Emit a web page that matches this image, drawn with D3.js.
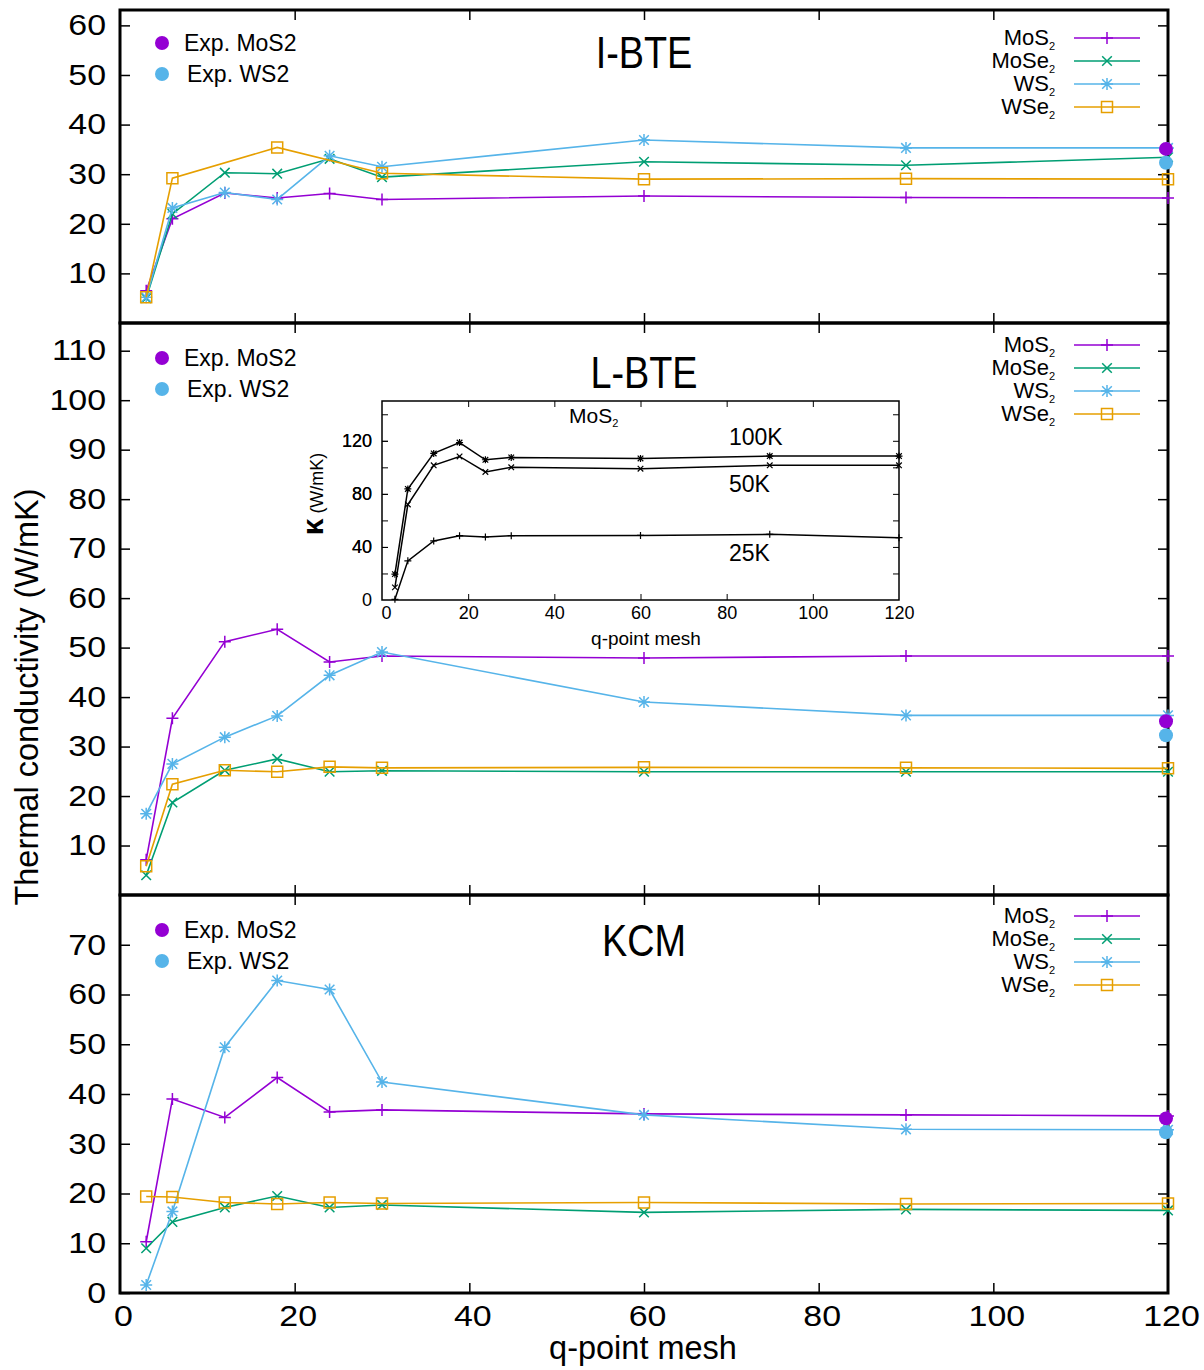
<!DOCTYPE html>
<html>
<head>
<meta charset="utf-8">
<script src="https://cdn.jsdelivr.net/npm/d3@7"></script>
<style>
  body { margin: 0; background: #fff; }
  svg { display: block; font-family: "Liberation Sans", Arial, sans-serif; }
</style>
</head>
<body>
<div id="chart"></div>
<script>
// q-point meshes and tick values
const qMesh = [3, 6, 12, 18, 24, 30, 60, 90, 120];
const xTickValues = [0, 20, 40, 60, 80, 100, 120];
const materials = ["MoS2", "MoSe2", "WS2", "WSe2"];
const panelNames = ["I-BTE", "L-BTE", "KCM"];

// I-BTE (W/mK)
const ibteMoS2 = [6.5, 21.0, 26.2, 25.2, 26.1, 24.9, 25.6, 25.3, 25.2];
const ibteMoSe2 = [5.0, 22.0, 30.3, 30.1, 33.1, 29.4, 32.5, 31.8, 33.4];
const ibteWS2 = [5.2, 23.2, 26.3, 24.9, 33.7, 31.5, 36.9, 35.3, 35.3];
const ibteWSe2 = [5.2, 29.2, null, 35.4, null, 30.2, 29.0, 29.1, 29.0];

// L-BTE
const lbteMoS2 = [7.1, 35.7, 51.2, 53.7, 47.1, 48.3, 47.9, 48.3, 48.3];
const lbteMoSe2 = [4.0, 18.7, 25.2, 27.5, 24.9, 25.1, 24.9, 24.9, 24.9];
const lbteWS2 = [16.4, 26.5, 31.9, 36.2, 44.4, 49.1, 39.0, 36.3, 36.3];
const lbteWSe2 = [5.8, 22.4, 25.2, 24.9, 25.9, 25.7, 25.8, 25.7, 25.6];

// KCM
const kcmMoS2 = [10.3, 39.0, 35.3, 43.3, 36.4, 36.8, 36.0, 35.8, 35.6];
const kcmMoSe2 = [9.0, 14.3, 17.2, 19.5, 17.2, 17.7, 16.2, 16.8, 16.6];
const kcmWS2 = [1.6, 16.4, 49.4, 62.8, 61.0, 42.4, 35.8, 32.9, 32.8];
const kcmWSe2 = [19.4, 19.3, 18.2, 17.9, 18.2, 18.0, 18.2, 17.9, 18.0];

// experimental values, drawn at q = 120
const expQ = 120;
const expMoS2 = 35.1;
const expWS2 = 32.3;

// y ticks per panel
const ibteTicks = [10, 20, 30, 40, 50, 60];
const lbteTicks = [10, 20, 30, 40, 50, 60, 70, 80, 90, 100, 110];
const kcmTicks = [0, 10, 20, 30, 40, 50, 60, 70];

// inset: MoS2 L-BTE at three temperatures
const insetTemps = ["100K", "50K", "25K"];
const inset100K = [19.5, 83.7, 110.5, 118.7, 105.7, 107.5, 106.7, 108.5, 108.5];
const inset50K = [9.5, 72.0, 101.5, 108.2, 96.5, 100.0, 99.0, 101.5, 101.5];
const inset25K = [0.5, 29.5, 44.5, 48.5, 47.5, 48.5, 48.7, 49.5, 47.0];
const insetYTicks = [0, 40, 80, 120];
const insetXTicks = [0, 20, 40, 60, 80, 100, 120];

(function () {
  const width = 1204;
  const height = 1370;
  const colors = { MoS2: "#9400d3", MoSe2: "#009e73", WS2: "#56b4e9", WSe2: "#e69f00" };
  const shapes = { MoS2: "plus", MoSe2: "cross", WS2: "star", WSe2: "square" };
  const tickFont = 29;
  const tickStretch = 1.17; // tick numbers in the source are drawn wide

  const svg = d3
    .select("#chart")
    .append("svg")
    .attr("width", width)
    .attr("height", height)
    .attr("viewBox", [0, 0, width, height]);

  function markerPath(shape, s) {
    const d = s * 0.8;
    if (shape === "plus") return `M${-s},0H${s}M0,${-s}V${s}`;
    if (shape === "cross") return `M${-d},${-d}L${d},${d}M${-d},${d}L${d},${-d}`;
    if (shape === "star")
      return `M${-s},0H${s}M0,${-s}V${s}M${-d},${-d}L${d},${d}M${-d},${d}L${d},${-d}`;
    return `M${-s},${-s}H${s}V${s}H${-s}Z`;
  }

  const x = d3.scaleLinear().domain([0, 120]).range([120, 1168]);

  const panels = [
    { name: panelNames[0], top: 10, bottom: 323, ymax: 63.1, ticks: ibteTicks,
      data: { MoS2: ibteMoS2, MoSe2: ibteMoSe2, WS2: ibteWS2, WSe2: ibteWSe2 } },
    { name: panelNames[1], top: 323, bottom: 895, ymax: 115.6, ticks: lbteTicks,
      data: { MoS2: lbteMoS2, MoSe2: lbteMoSe2, WS2: lbteWS2, WSe2: lbteWSe2 } },
    { name: panelNames[2], top: 895, bottom: 1293, ymax: 80, ticks: kcmTicks,
      data: { MoS2: kcmMoS2, MoSe2: kcmMoSe2, WS2: kcmWS2, WSe2: kcmWSe2 } },
  ];

  panels.forEach((p, pi) => {
    const y = d3.scaleLinear().domain([0, p.ymax]).range([p.bottom, p.top]);
    const g = svg.append("g");
    const last = pi === panels.length - 1;

    // axes (inward ticks)
    g.append("g")
      .attr("transform", `translate(${x(0)},0)`)
      .call(d3.axisLeft(y).tickValues(p.ticks).tickSize(-10).tickPadding(14))
      .call((a) => a.select(".domain").remove())
      .call((a) => a.selectAll("line").attr("stroke-width", 1.5))
      .call((a) => a.selectAll("text")
        .attr("font-size", tickFont).attr("fill", "#000")
        .attr("x", 0).attr("transform", `translate(-14,0) scale(${tickStretch},1)`))
      .attr("font-family", null);

    g.append("g")
      .attr("transform", `translate(${x(120)},0)`)
      .call(d3.axisRight(y).tickValues(p.ticks.filter((t) => t > 0)).tickSize(-10).tickFormat(""))
      .call((a) => a.select(".domain").remove())
      .call((a) => a.selectAll("line").attr("stroke-width", 1.5));

    g.append("g")
      .attr("transform", `translate(0,${p.top})`)
      .call(d3.axisTop(x).tickValues(xTickValues.slice(1, -1)).tickSize(-10).tickFormat(""))
      .call((a) => a.select(".domain").remove())
      .call((a) => a.selectAll("line").attr("stroke-width", 1.5));

    const bottomAxis = d3.axisBottom(x).tickSize(-10).tickPadding(12);
    if (last) bottomAxis.tickValues(xTickValues);
    else bottomAxis.tickValues(xTickValues.slice(1, -1)).tickFormat("");
    g.append("g")
      .attr("transform", `translate(0,${p.bottom})`)
      .call(bottomAxis)
      .call((a) => a.select(".domain").remove())
      .call((a) => a.selectAll("line").attr("stroke-width", 1.5)
        .attr("display", (d) => (d === 0 || d === 120 ? "none" : null)))
      .call((a) => a.selectAll("text")
        .attr("font-size", tickFont).attr("fill", "#000")
        .attr("transform", `translate(3,0) scale(${tickStretch},1)`))
      .attr("font-family", null);

    // frame
    g.append("rect")
      .attr("x", x(0))
      .attr("y", p.top)
      .attr("width", x(120) - x(0))
      .attr("height", p.bottom - p.top)
      .attr("fill", "none")
      .attr("stroke", "#000")
      .attr("stroke-width", 3);

    // title (condensed lettering)
    g.append("text")
      .attr("transform", `translate(644,${p.top + (pi === 0 ? 58 : pi === 1 ? 65 : 61)}) scale(0.86,1)`)
      .attr("text-anchor", "middle")
      .attr("font-size", 44)
      .text(p.name);

    // series
    const line = d3.line().x((d) => x(d.q)).y((d) => y(d.v));
    materials.forEach((m) => {
      const pts = qMesh
        .map((q, i) => ({ q: q, v: p.data[m][i] }))
        .filter((d) => d.v !== null);
      g.append("path")
        .datum(pts)
        .attr("d", line)
        .attr("fill", "none")
        .attr("stroke", colors[m])
        .attr("stroke-width", 1.6);
      g.selectAll(null)
        .data(pts)
        .enter()
        .append("path")
        .attr("transform", (d) => `translate(${x(d.q)},${y(d.v)})`)
        .attr("d", markerPath(shapes[m], shapes[m] === "square" ? 5.5 : 6))
        .attr("fill", "none")
        .attr("stroke", colors[m])
        .attr("stroke-width", 1.5);
    });

    // experimental points
    [[expMoS2, colors.MoS2], [expWS2, colors.WS2]].forEach(([v, c]) => {
      g.append("circle")
        .attr("cx", x(expQ) - 2)
        .attr("cy", y(v))
        .attr("r", 7)
        .attr("fill", c);
    });

    // Exp legend
    const expLegend = g.append("g").attr("transform", `translate(162,${p.top + (pi === 0 ? 33 : 35)})`);
    [["Exp. MoS2", colors.MoS2, 184], ["Exp. WS2", colors.WS2, 187]].forEach(([t, c, tx], i) => {
      expLegend.append("circle").attr("cx", 0).attr("cy", i * 31).attr("r", 7).attr("fill", c);
      expLegend.append("text")
        .attr("x", tx - 162)
        .attr("y", i * 31 + 8)
        .attr("font-size", 23)
        .text(t);
    });

    // series legend
    const legend = g.append("g").attr("transform", `translate(0,${p.top + (pi === 0 ? 28 : pi === 1 ? 22 : 21)})`);
    materials.forEach((m, i) => {
      const row = legend.append("g").attr("transform", `translate(0,${i * 23})`);
      const t = row.append("text")
        .attr("x", 1055)
        .attr("y", 7)
        .attr("text-anchor", "end")
        .attr("font-size", 22);
      t.append("tspan").text(m.slice(0, -1));
      t.append("tspan").attr("font-size", 11).attr("dy", 5).text("2");
      row.append("line")
        .attr("x1", 1074).attr("x2", 1140)
        .attr("y1", 0).attr("y2", 0)
        .attr("stroke", colors[m])
        .attr("stroke-width", 1.6);
      row.append("path")
        .attr("transform", "translate(1107,0)")
        .attr("d", markerPath(shapes[m], shapes[m] === "square" ? 5.5 : 6))
        .attr("fill", "none")
        .attr("stroke", colors[m])
        .attr("stroke-width", 1.5);
    });
  });

  // axis labels
  svg.append("text")
    .attr("transform", "translate(38,697) rotate(-90)")
    .attr("text-anchor", "middle")
    .attr("font-size", 32.5)
    .text("Thermal conductivity (W/mK)");

  svg.append("text")
    .attr("x", 643)
    .attr("y", 1359)
    .attr("text-anchor", "middle")
    .attr("font-size", 32.5)
    .text("q-point mesh");

  // inset
  const ix = d3.scaleLinear().domain([0, 120]).range([382, 899]);
  const iy = d3.scaleLinear().domain([0, 150]).range([600, 401]);
  const inset = svg.append("g");

  inset.append("rect")
    .attr("x", ix(0)).attr("y", iy(150))
    .attr("width", ix(120) - ix(0)).attr("height", iy(0) - iy(150))
    .attr("fill", "#fff");

  inset.append("g")
    .attr("transform", `translate(${ix(0)},0)`)
    .call(d3.axisLeft(iy).tickValues(d3.range(20, 150, 20).concat(insetYTicks)).tickSize(-6).tickPadding(10)
      .tickFormat((d) => (insetYTicks.includes(d) ? d : "")))
    .call((a) => a.select(".domain").remove())
    .call((a) => a.selectAll("line").attr("display", (d) => (d === 0 ? "none" : null)))
    .call((a) => a.selectAll("text").attr("font-size", 18).attr("fill", "#000"))
    .attr("font-family", null);
  inset.append("g")
    .attr("transform", `translate(${ix(120)},0)`)
    .call(d3.axisRight(iy).tickValues(d3.range(20, 150, 20)).tickSize(-6).tickFormat(""))
    .call((a) => a.select(".domain").remove());
  inset.append("g")
    .attr("transform", `translate(0,${iy(0)})`)
    .call(d3.axisBottom(ix).tickValues(insetXTicks).tickSize(-6).tickPadding(6))
    .call((a) => a.select(".domain").remove())
    .call((a) => a.selectAll("line").attr("display", (d) => (d === 0 || d === 120 ? "none" : null)))
    .call((a) => a.selectAll("text").attr("font-size", 18).attr("fill", "#000")
      .attr("transform", (d) => (d === 0 ? "translate(4,0)" : null)))
    .attr("font-family", null);
  inset.append("g")
    .attr("transform", `translate(0,${iy(150)})`)
    .call(d3.axisTop(ix).tickValues(insetXTicks.slice(1, -1)).tickSize(-6).tickFormat(""))
    .call((a) => a.select(".domain").remove());

  inset.append("rect")
    .attr("x", ix(0)).attr("y", iy(150))
    .attr("width", ix(120) - ix(0)).attr("height", iy(0) - iy(150))
    .attr("fill", "none")
    .attr("stroke", "#000")
    .attr("stroke-width", 1.5);

  const insetSeries = [inset100K, inset50K, inset25K];
  const insetShapes = ["star", "cross", "plus"];
  const iline = d3.line().x((d) => ix(d.q)).y((d) => iy(d.v));
  insetSeries.forEach((vals, si) => {
    const pts = qMesh.map((q, i) => ({ q: q, v: vals[i] }));
    inset.append("path")
      .datum(pts)
      .attr("d", iline)
      .attr("fill", "none")
      .attr("stroke", "#000")
      .attr("stroke-width", 1.5);
    inset.selectAll(null)
      .data(pts)
      .enter()
      .append("path")
      .attr("transform", (d) => `translate(${ix(d.q)},${iy(d.v)})`)
      .attr("d", markerPath(insetShapes[si], 3.5))
      .attr("fill", "none")
      .attr("stroke", "#000")
      .attr("stroke-width", 1.2);
  });

  // inset labels
  const tempLabelY = [445, 492, 561];
  insetTemps.forEach((t, i) => {
    inset.append("text")
      .attr("x", 729)
      .attr("y", tempLabelY[i])
      .attr("font-size", 23)
      .text(t);
  });

  const mos2 = inset.append("text").attr("x", 569).attr("y", 423).attr("font-size", 21);
  mos2.append("tspan").text("MoS");
  mos2.append("tspan").attr("font-size", 11).attr("dy", 4).text("2");

  inset.append("text")
    .attr("x", 646)
    .attr("y", 645)
    .attr("text-anchor", "middle")
    .attr("font-size", 19)
    .text("q-point mesh");

  const kl = inset.append("text")
    .attr("transform", "translate(323,494) rotate(-90)")
    .attr("text-anchor", "middle");
  kl.append("tspan").attr("font-size", 30).attr("font-weight", "bold").text("κ");
  kl.append("tspan").attr("font-size", 18).text(" (W/mK)");
})();
</script>
</body>
</html>
